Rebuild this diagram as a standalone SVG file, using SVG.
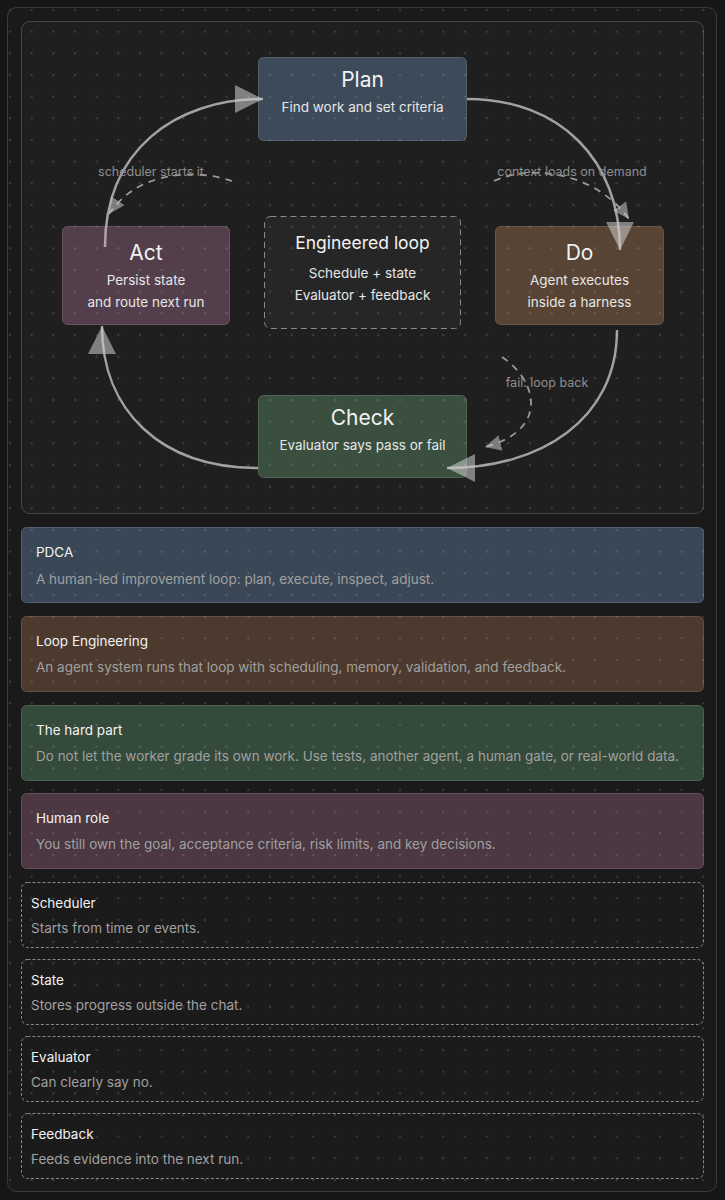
<svg xmlns="http://www.w3.org/2000/svg" width="725" height="1200" viewBox="0 0 725 1200">
  <defs>
    <pattern id="dots" x="0" y="0" width="21.667" height="21.667" patternUnits="userSpaceOnUse">
      <circle cx="10" cy="10" r="1.1" fill="#ffffff" fill-opacity="0.16"/>
    </pattern>
    <marker id="arrowBig" viewBox="0 0 28 28" refX="28" refY="14" markerWidth="28" markerHeight="28" markerUnits="userSpaceOnUse" orient="auto">
      <path d="M0,0 L28,14 L0,28 z" fill="#d0d0d0" fill-opacity="0.55"/>
    </marker>
    <marker id="arrowSmall" viewBox="0 0 16 16" refX="16" refY="8" markerWidth="16" markerHeight="16" markerUnits="userSpaceOnUse" orient="auto">
      <path d="M0,0 L16,8 L0,16 z" fill="#c8c8c8" fill-opacity="0.55"/>
    </marker>
  </defs>
  <style>
    .title { font-family: Inter, "Noto Sans", "Liberation Sans", sans-serif; font-size: 21px; fill: #f2f2f2; text-anchor: middle; }
    .sub { font-family: Inter, "Noto Sans", "Liberation Sans", sans-serif; font-size: 13.5px; fill: #e6e6e6; text-anchor: middle; }
    .ctitle { font-family: Inter, "Noto Sans", "Liberation Sans", sans-serif; font-size: 13.5px; fill: #f2f2f2; }
    .cdesc { font-family: Inter, "Noto Sans", "Liberation Sans", sans-serif; font-size: 13.5px; fill: #a0a0a0; }
    .elabel { font-family: Inter, "Noto Sans", "Liberation Sans", sans-serif; font-size: 12.5px; fill: #8e8e8e; text-anchor: middle; }
    .edge { fill: none; stroke: #b8b8b8; stroke-opacity: 0.85; stroke-width: 2.5; }
    .dashed { fill: none; stroke: #9a9a9a; stroke-width: 1.8; stroke-dasharray: 7 6; }
    .dcard { fill: #1b1b1b; stroke: #8a8a8a; stroke-width: 1; stroke-dasharray: 3 2; }
  </style>

  <rect x="0" y="0" width="725" height="1200" fill="#161616"/>
  <rect id="frame" x="7.5" y="7.5" width="709" height="1184" rx="9" fill="#1a1a1a" stroke="#3a3a3a" stroke-width="1"/>
  <rect id="panel" x="21.5" y="21.5" width="682" height="492" rx="8" fill="#1f1f1f" stroke="#474747" stroke-width="1"/>

  <g id="plan">
    <rect x="258.5" y="57.5" width="208" height="83" rx="5" fill="#3d4a59" stroke="#53606f"/>
    <text class="title" x="362.5" y="87">Plan</text>
    <text class="sub" x="362.5" y="112">Find work and set criteria</text>
  </g>
  <g id="act">
    <rect x="62.5" y="226.5" width="167" height="98" rx="5" fill="#533f4c" stroke="#665261"/>
    <text class="title" x="146" y="260">Act</text>
    <text class="sub" x="146" y="285">Persist state</text>
    <text class="sub" x="146" y="307">and route next run</text>
  </g>
  <g id="loop">
    <rect x="264.5" y="216.5" width="196" height="112" rx="6" fill="#262626" stroke="#8a8a8a" stroke-dasharray="6 4"/>
    <text class="title" x="362.5" y="249" style="font-size:17.5px">Engineered loop</text>
    <text class="sub" x="362.5" y="278">Schedule + state</text>
    <text class="sub" x="362.5" y="300">Evaluator + feedback</text>
  </g>
  <g id="do">
    <rect x="495.5" y="226.5" width="168" height="98" rx="5" fill="#574434" stroke="#6a5747"/>
    <text class="title" x="579.5" y="260">Do</text>
    <text class="sub" x="579.5" y="285">Agent executes</text>
    <text class="sub" x="579.5" y="307">inside a harness</text>
  </g>
  <g id="check">
    <rect x="258.5" y="395.5" width="208" height="82" rx="5" fill="#3a4f3e" stroke="#4e6352"/>
    <text class="title" x="362.5" y="425">Check</text>
    <text class="sub" x="362.5" y="450">Evaluator says pass or fail</text>
  </g>

  <g id="connectors">
    <path class="edge" d="M105,247 C105,150 175,99 263,99" marker-end="url(#arrowBig)"/>
    <path class="edge" d="M467,99 C560,99 620,160 620,250" marker-end="url(#arrowBig)"/>
    <path class="edge" d="M617,330 C617,420 540,468 447,468" marker-end="url(#arrowBig)"/>
    <path class="edge" d="M258,468 C160,468 102,410 102,326" marker-end="url(#arrowBig)"/>
    <path class="dashed" d="M232,181 C200,170 140,168 109,214" marker-end="url(#arrowSmall)"/>
    <path class="dashed" d="M494,181 C525,166 592,168 629,219" marker-end="url(#arrowSmall)"/>
    <path class="dashed" d="M502,357 C537,380 550,430 485,447" marker-end="url(#arrowSmall)"/>
    <text class="elabel" x="151" y="176">scheduler starts it</text>
    <text class="elabel" x="572" y="176">context loads on demand</text>
    <text class="elabel" x="547" y="387">fail: loop back</text>
  </g>

  <g id="card-pdca">
    <rect x="21.5" y="527.5" width="682" height="75" rx="5" fill="#3a4756" stroke="#536070"/>
    <text class="ctitle" x="36" y="557">PDCA</text>
    <text class="cdesc" x="36" y="584">A human-led improvement loop: plan, execute, inspect, adjust.</text>
  </g>
  <g id="card-loop">
    <rect x="21.5" y="616.5" width="682" height="75" rx="5" fill="#4d3a2e" stroke="#665243"/>
    <text class="ctitle" x="36" y="646">Loop Engineering</text>
    <text class="cdesc" x="36" y="672">An agent system runs that loop with scheduling, memory, validation, and feedback.</text>
  </g>
  <g id="card-hard">
    <rect x="21.5" y="705.5" width="682" height="75" rx="5" fill="#344a3a" stroke="#4a6350"/>
    <text class="ctitle" x="36" y="735">The hard part</text>
    <text class="cdesc" x="36" y="761">Do not let the worker grade its own work. Use tests, another agent, a human gate, or real-world data.</text>
  </g>
  <g id="card-human">
    <rect x="21.5" y="793.5" width="682" height="75" rx="5" fill="#4b3842" stroke="#65505c"/>
    <text class="ctitle" x="36" y="823">Human role</text>
    <text class="cdesc" x="36" y="849">You still own the goal, acceptance criteria, risk limits, and key decisions.</text>
  </g>

  <g id="card-scheduler">
    <rect class="dcard" x="21.5" y="882.5" width="682" height="65" rx="6"/>
    <text class="ctitle" x="31" y="908">Scheduler</text>
    <text class="cdesc" x="31" y="933">Starts from time or events.</text>
  </g>
  <g id="card-state">
    <rect class="dcard" x="21.5" y="959.5" width="682" height="65" rx="6"/>
    <text class="ctitle" x="31" y="985">State</text>
    <text class="cdesc" x="31" y="1010">Stores progress outside the chat.</text>
  </g>
  <g id="card-evaluator">
    <rect class="dcard" x="21.5" y="1036.5" width="682" height="65" rx="6"/>
    <text class="ctitle" x="31" y="1062">Evaluator</text>
    <text class="cdesc" x="31" y="1087">Can clearly say no.</text>
  </g>
  <g id="card-feedback">
    <rect class="dcard" x="21.5" y="1113.5" width="682" height="65" rx="6"/>
    <text class="ctitle" x="31" y="1139">Feedback</text>
    <text class="cdesc" x="31" y="1164">Feeds evidence into the next run.</text>
  </g>

  <rect x="8" y="8" width="709" height="1184" fill="url(#dots)" pointer-events="none"/>
</svg>
